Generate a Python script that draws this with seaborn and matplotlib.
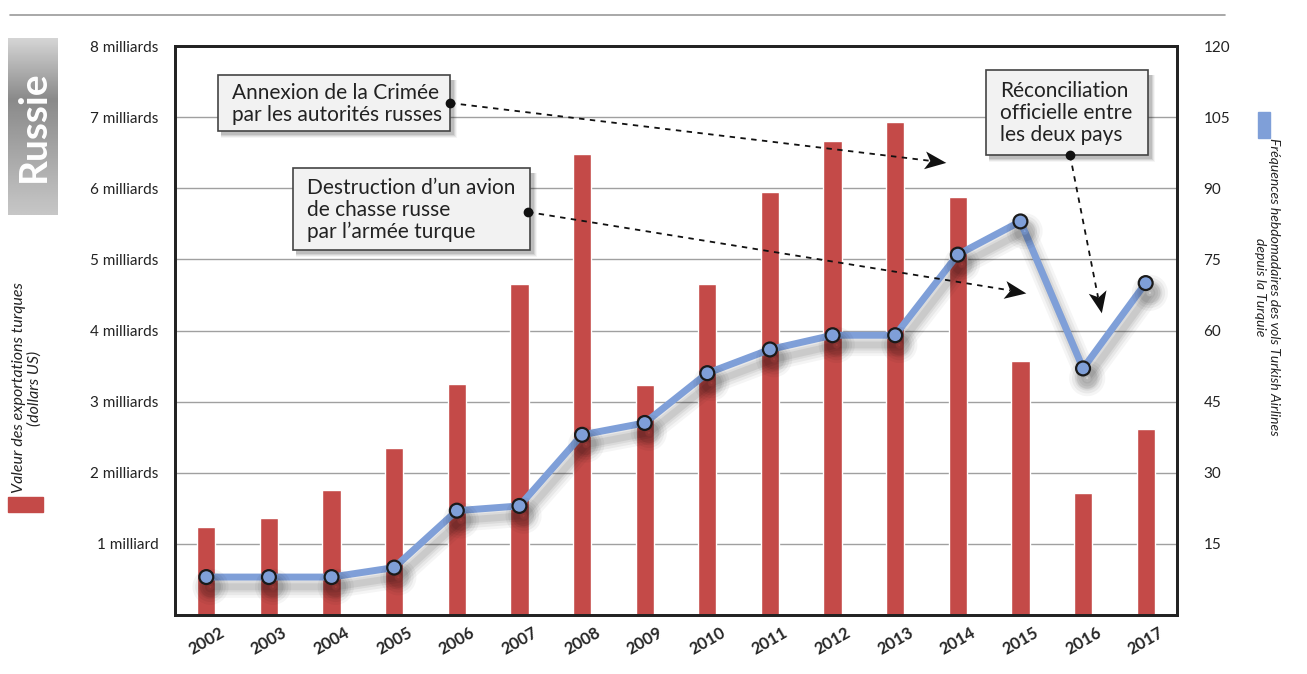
import numpy as np
import pandas as pd
import matplotlib
matplotlib.use("Agg")
import matplotlib.pyplot as plt
import seaborn as sns
from matplotlib.patches import Rectangle
from matplotlib.lines import Line2D
import matplotlib.patheffects as pe

years = ["2002", "2003", "2004", "2005", "2006", "2007", "2008", "2009",
         "2010", "2011", "2012", "2013", "2014", "2015", "2016", "2017"]
exports_bn = [1.24, 1.37, 1.76, 2.35, 3.25, 4.66, 6.48, 3.24,
              4.66, 5.95, 6.67, 6.93, 5.88, 3.57, 1.72, 2.62]
flights = [8, 8, 8, 10, 22, 23, 38, 40.5, 51, 56, 59, 59, 76, 83, 52, 70]
left_ticks = [1, 2, 3, 4, 5, 6, 7, 8]
left_labels = ["1 milliard", "2 milliards", "3 milliards", "4 milliards",
               "5 milliards", "6 milliards", "7 milliards", "8 milliards"]
right_ticks = [15, 30, 45, 60, 75, 90, 105, 120]

W, H = 1307, 674
sns.set_theme(style="white")
plt.rcParams['font.family'] = ['Lato', 'DejaVu Sans']

fig = plt.figure(figsize=(W / 100, H / 100), dpi=100)

def fx(x):
    return x / W

def fy(y):
    return 1 - y / H

ax = fig.add_axes([fx(175), fy(615), fx(1177) - fx(175), fy(46) - fy(615)])
df = pd.DataFrame({"year": years, "exports": exports_bn, "flights": flights})
df["pos"] = np.arange(len(years))

sns.barplot(data=df, x="year", y="exports", color="#c44a48", saturation=1,
            width=0.29, ax=ax, zorder=2)
ax.set_xlim(-0.5, len(years) - 0.5)
ax.set_ylim(0, 8)
ax.set_yticks(left_ticks)
ax.set_yticklabels(left_labels, fontsize=11, color="#222222")
ax.set_xlabel("")
ax.set_ylabel("")
ax.yaxis.grid(True, color="#a0a0a0", linewidth=1.0, zorder=0)
ax.set_axisbelow(True)
ax.tick_params(axis="y", length=0, pad=12)
ax.tick_params(axis="x", length=0, pad=7)
for lab in ax.get_xticklabels():
    lab.set_rotation(30)
    lab.set_fontweight("bold")
    lab.set_fontsize(12)
    lab.set_ha("center")
    lab.set_va("top")
for s in ax.spines.values():
    s.set_color("#222222")
    s.set_linewidth(2)
    s.set_visible(True)

shadow_fx = [pe.SimpleLineShadow(offset=(3, -7), shadow_color="#000000", alpha=a, linewidth=w)
             for a, w in [(0.04, 16), (0.05, 12), (0.06, 8), (0.07, 5)]]
ax2 = ax.twinx()
sns.lineplot(data=df, x="pos", y="flights", ax=ax2, color="#7f9fd8",
             linewidth=5, marker="o", markersize=10, markerfacecolor="#7f9fd8",
             markeredgecolor="#1a1a1a", markeredgewidth=1.6, zorder=5,
             path_effects=shadow_fx + [pe.Normal()])
ax2.set_ylim(0, 120)
ax2.set_xlim(-0.5, len(years) - 0.5)
ax2.set_yticks(right_ticks)
ax2.set_yticklabels([str(t) for t in right_ticks], fontsize=11, color="#222222")
ax2.tick_params(axis="y", length=0, pad=19)
ax2.set_ylabel("")
ax2.set_xlabel("")
ax2.grid(False)
for s in ax2.spines.values():
    s.set_color("#222222")
    s.set_linewidth(2)

# top rule
fig.add_artist(Line2D([fx(10), fx(1225)], [fy(15), fy(15)], color="#9a9a9a", linewidth=1.2))

# Russie box with vertical gradient
gax = fig.add_axes([fx(8), fy(215), fx(58) - fx(8), fy(38) - fy(215)])
t = np.linspace(0, 1, 200)
shade = np.where(t < 0.35, 0.84 - 0.30 * t / 0.35, 0.54 + 0.24 * (t - 0.35) / 0.65)
grad = np.repeat(shade[:, None], 10, axis=1)
gax.imshow(grad, cmap="gray", vmin=0, vmax=1, aspect="auto", extent=[0, 1, 0, 1],
           origin="upper")
gax.set_axis_off()
gax.text(0.5, 0.5, "Russie", rotation=90, color="white", fontsize=28, fontweight="bold",
         ha="center", va="center", transform=gax.transAxes)

# left legend
fig.add_artist(Rectangle((fx(8), fy(512)), fx(43) - fx(8), fy(497) - fy(512),
                         transform=fig.transFigure, color="#c44a48"))
fig.text(fx(27), fy(388), "Valeur des exportations turques\n(dollars US)", rotation=90,
         ha="center", va="center", fontsize=11.5, style="italic", color="#222222",
         multialignment="center", linespacing=1.1)

# right legend
fig.add_artist(Rectangle((fx(1258), fy(138)), fx(1270) - fx(1258), fy(112) - fy(138),
                         transform=fig.transFigure, color="#7f9fd8"))
fig.text(fx(1267), fy(287), "Fréquences hebdomadaires des vols Turkish Airlines\ndepuis la Turquie",
         rotation=-90, ha="center", va="center", fontsize=10, style="italic", color="#222222",
         multialignment="center", linespacing=1.25)

def shadow_box(x0, y0, x1, y1, lines, tx, ty):
    for i, a in enumerate([0.04, 0.06, 0.08, 0.10]):
        d = 7 - i
        fig.add_artist(Rectangle((fx(x0 + 3), fy(y1 + d)), fx(x1 + d) - fx(x0 + 3), fy(y0 + 5) - fy(y1 + d),
                                 transform=fig.transFigure, color="black", alpha=a, linewidth=0))
    fig.add_artist(Rectangle((fx(x0), fy(y1)), fx(x1) - fx(x0), fy(y0) - fy(y1),
                             transform=fig.transFigure, facecolor="#f2f2f2", edgecolor="#444444",
                             linewidth=1.2))
    fig.text(fx(tx), fy(ty), lines, ha="left", va="center", fontsize=15, color="#222222",
             linespacing=1.13)

def dashed_arrow(x0, y0, x1, y1):
    v = np.array([x1 - x0, -(y1 - y0)], float)
    u = v / np.linalg.norm(v)
    xm, ym = x1 - u[0] * 10, y1 + u[1] * 10
    fig.add_artist(Line2D([fx(x0), fx(xm)], [fy(y0), fy(ym)], color="#111111", linewidth=1.3,
                          linestyle=(0, (3, 3))))
    ang = np.arctan2(u[1], u[0])
    base = np.array([[1.0, 0.0], [-0.8, 0.75], [-0.35, 0.0], [-0.8, -0.75], [1.0, 0.0]])
    rot = np.array([[np.cos(ang), -np.sin(ang)], [np.sin(ang), np.cos(ang)]])
    verts = base @ rot.T
    fig.add_artist(Line2D([fx(x1 - u[0] * 6)], [fy(y1 + u[1] * 6)], marker=verts, markersize=17,
                          color="#111111", markeredgewidth=0, linestyle="none"))
    fig.add_artist(Line2D([fx(x0)], [fy(y0)], marker="o", markersize=6, color="#111111"))

shadow_box(218, 75, 450, 131, "Annexion de la Crimée\npar les autorités russes", 232, 104)
shadow_box(293, 168, 530, 250, "Destruction d\u2019un avion\nde chasse russe\npar l\u2019armée turque", 307, 210)
shadow_box(986, 70, 1148, 155, "Réconciliation\nofficielle entre\nles deux pays", 1000, 113)

dashed_arrow(450, 103, 940, 162)
dashed_arrow(528, 212, 1020, 292)
dashed_arrow(1070, 155, 1100, 307)

fig.savefig("out.png", dpi=100)
